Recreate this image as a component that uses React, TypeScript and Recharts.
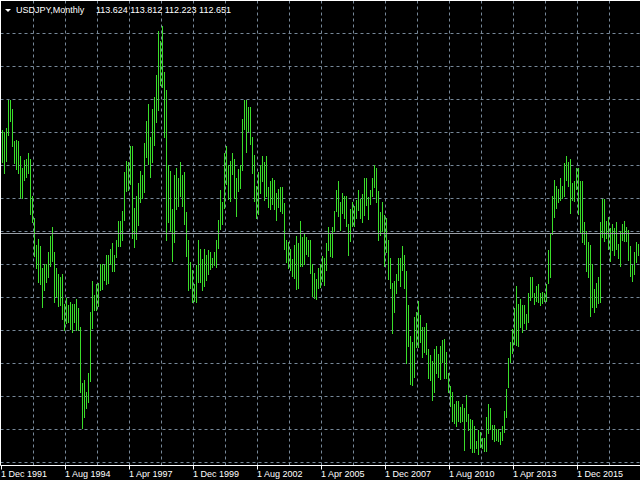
import { BarChart, Bar, XAxis, YAxis, CartesianGrid, ReferenceLine } from "recharts";

const symbol = "USDJPY,Monthly";
const lastBar = ["113.624", "113.812", "112.223", "112.651"];
const lastClose = 112.651;
const firstYear = 1991;
const firstMonth = 12;
const monthNames = ["Jan", "Feb", "Mar", "Apr", "May", "Jun", "Jul", "Aug", "Sep", "Oct", "Nov", "Dec"];
const tickLabels = [
  "1 Dec 1991", "1 Aug 1994", "1 Apr 1997", "1 Dec 1999", "1 Aug 2002",
  "1 Apr 2005", "1 Dec 2007", "1 Aug 2010", "1 Apr 2013", "1 Dec 2015",
];

// monthly highs, Dec 1991 .. Jul 2018
const highs = [
  130.1,
  129.6, 130.3, 135.0, 135.1, 133.6, 128.2, 128.4, 128.1, 125.6, 123.7, 125.0, 125.2,
  126.2, 125.2, 119.0, 115.2, 110.8, 111.8, 110.5, 106.8, 107.6, 107.6, 109.6, 112.3,
  113.7, 109.6, 106.8, 105.9, 105.3, 105.9, 100.9, 101.9, 100.6, 101.1, 100.9, 100.9,
  101.6, 100.1, 97.0, 87.5, 88.0, 86.1, 89.3, 99.4, 104.7, 102.4, 104.1, 104.3,
  107.6, 107.6, 107.3, 109.0, 109.0, 110.0, 111.0, 109.0, 111.6, 114.8, 114.7, 116.5,
  122.9, 124.9, 124.6, 127.3, 127.4, 117.0, 119.0, 121.2, 123.1, 122.5, 127.9, 131.6,
  134.3, 128.9, 133.6, 135.5, 139.2, 146.7, 144.9, 147.5, 139.8, 136.8, 124.1, 123.2,
  116.8, 122.5, 123.7, 122.0, 124.7, 122.5, 122.9, 116.3, 111.5, 107.9, 106.6, 104.1,
  107.4, 111.6, 110.1, 108.3, 110.0, 109.1, 109.8, 109.6, 108.6, 109.6, 111.5, 115.0,
  119.9, 118.0, 126.2, 127.3, 124.1, 124.9, 126.1, 125.2, 122.0, 123.4, 124.1, 131.9,
  135.1, 135.0, 133.8, 133.8, 128.9, 125.9, 120.7, 122.9, 124.2, 125.6, 124.7, 125.7,
  120.5, 121.5, 121.9, 121.7, 119.5, 120.2, 120.4, 120.5, 117.7, 111.5, 111.3, 110.1,
  108.3, 110.8, 112.3, 111.0, 114.8, 112.0, 112.8, 112.0, 111.6, 111.5, 107.5, 106.1,
  105.1, 106.8, 107.6, 108.8, 108.6, 111.0, 113.7, 112.6, 113.7, 116.5, 119.9, 121.4,
  118.0, 119.4, 119.0, 118.9, 114.2, 116.7, 117.9, 117.3, 118.2, 119.9, 118.5, 119.2,
  122.0, 122.0, 118.7, 119.9, 121.9, 124.1, 123.6, 119.7, 116.3, 117.9, 115.8, 115.2,
  111.6, 108.6, 104.3, 104.7, 105.8, 108.5, 108.5, 110.6, 109.1, 106.4, 100.6, 95.5,
  94.5, 98.7, 99.4, 101.4, 98.9, 96.9, 96.9, 97.7, 93.3, 92.3, 91.3, 93.3,
  93.7, 92.5, 93.7, 94.7, 95.0, 92.8, 89.2, 87.0, 86.0, 84.0, 84.5, 84.5,
  83.6, 84.1, 83.3, 85.5, 82.3, 81.6, 81.4, 80.3, 77.9, 79.6, 79.3, 78.3,
  78.4, 81.8, 84.1, 83.3, 80.6, 80.6, 79.9, 79.9, 79.3, 80.4, 82.8, 86.6,
  91.8, 94.4, 96.7, 100.1, 103.8, 100.9, 101.6, 100.6, 100.6, 99.1, 102.6, 105.4,
  105.4, 102.7, 103.8, 104.1, 102.7, 102.9, 102.7, 104.2, 109.8, 112.5, 118.9, 121.7,
  120.7, 120.2, 121.9, 120.7, 124.4, 125.7, 124.6, 125.2, 121.2, 121.4, 123.7, 123.6,
  121.5, 121.4, 114.5, 113.0, 111.3, 110.8, 107.5, 103.4, 104.3, 105.4, 114.5, 118.5,
  118.5, 114.8, 115.5, 113.5, 114.3, 113.5, 114.5, 110.9, 113.1, 114.3, 114.7, 113.7,
  113.3, 110.5, 107.3, 109.5, 111.3, 110.9, 113.1,
];

// monthly lows, Dec 1991 .. Jul 2018
const lows = [
  124.6,
  122.6, 124.6, 128.9, 131.4, 127.2, 124.4, 123.4, 122.6, 118.5, 118.5, 121.4, 122.0,
  122.7, 115.8, 114.5, 108.6, 106.8, 104.4, 103.9, 100.1, 103.1, 104.4, 105.3, 107.1,
  107.9, 101.1, 101.9, 100.4, 100.4, 98.1, 96.4, 97.6, 97.6, 96.4, 96.0, 97.7,
  96.2, 96.2, 86.0, 79.8, 81.6, 83.3, 84.3, 87.7, 96.7, 99.7, 99.6, 100.2,
  103.1, 103.3, 104.6, 103.9, 104.1, 107.3, 106.1, 106.1, 108.5, 110.5, 110.3, 111.5,
  114.7, 119.7, 119.7, 120.7, 111.8, 110.3, 111.6, 114.0, 117.7, 118.5, 119.5, 125.4,
  124.1, 122.0, 124.6, 127.2, 131.1, 133.3, 137.3, 137.1, 128.7, 111.5, 114.3, 113.0,
  107.9, 111.1, 116.7, 117.2, 118.9, 117.2, 114.0, 108.8, 102.9, 103.4, 101.1, 101.1,
  101.1, 104.4, 104.4, 102.9, 103.6, 104.7, 105.6, 106.6, 106.9, 107.2, 106.8, 110.1,
  113.2, 114.2, 116.8, 120.7, 118.2, 118.0, 122.4, 118.5, 115.5, 119.5, 120.0, 123.2,
  130.1, 126.1, 129.6, 127.4, 122.7, 118.0, 115.2, 115.7, 119.4, 121.2, 118.2, 118.9,
  117.0, 116.7, 117.3, 116.7, 114.8, 117.0, 116.2, 116.0, 109.8, 107.6, 106.8, 106.4,
  105.3, 105.1, 103.2, 103.2, 107.0, 107.0, 107.5, 109.0, 108.8, 105.8, 101.9, 101.7,
  101.6, 103.2, 103.6, 104.4, 103.9, 106.3, 109.6, 108.8, 108.5, 113.0, 116.2, 115.3,
  113.2, 115.8, 115.2, 113.7, 108.8, 111.1, 113.7, 113.7, 115.0, 116.3, 115.2, 114.3,
  115.7, 117.3, 114.8, 117.3, 118.7, 120.2, 117.7, 111.3, 112.3, 112.8, 107.0, 109.3,
  104.9, 103.4, 95.7, 99.4, 102.4, 104.6, 103.6, 106.4, 103.4, 90.8, 93.5, 87.2,
  87.2, 88.5, 93.3, 93.5, 94.2, 91.7, 92.5, 92.4, 88.3, 88.0, 84.6, 86.0,
  89.0, 88.5, 88.0, 90.8, 88.3, 88.3, 85.8, 83.5, 80.9, 80.6, 80.1, 80.9,
  80.9, 81.1, 76.1, 80.9, 79.4, 76.6, 75.9, 75.7, 76.6, 75.4, 76.6, 76.4,
  76.1, 75.9, 79.1, 79.6, 78.1, 77.8, 77.9, 77.8, 77.2, 77.8, 79.1, 81.8,
  86.8, 90.8, 92.5, 93.9, 93.7, 93.7, 96.7, 95.9, 97.4, 96.4, 97.6, 101.4,
  101.8, 100.7, 101.1, 100.9, 100.6, 100.9, 101.2, 101.2, 104.1, 105.1, 112.3, 115.3,
  116.8, 117.9, 118.0, 118.5, 118.7, 121.5, 120.4, 116.0, 118.2, 117.9, 120.0, 115.7,
  112.7, 111.0, 110.6, 106.1, 105.3, 98.7, 100.1, 99.4, 100.1, 100.9, 100.9, 112.0,
  111.3, 111.8, 110.0, 107.8, 109.8, 108.8, 109.8, 108.3, 107.1, 111.5, 111.1, 111.1,
  108.1, 105.3, 104.4, 105.6, 107.8, 108.9, 110.3,
];

const data = highs.map((h, i) => {
  const m = firstMonth - 1 + i;
  return {
    month: monthNames[m % 12] + " " + (firstYear + Math.floor(m / 12)),
    hl: [lows[i], h],
  };
});

const W = 640;
const H = 480;
const plotBottom = 465.5;
const grid = "#778899";
const barColor = "#3ade2a";
const font = "'Liberation Sans', Arial, sans-serif";

// MT4 grid: a dashed line every 16 bars, every 33 px in price
const vLines = Array.from({ length: 19 }, (_, k) => 1.5 + 32 * (k + 1));
const hLines = Array.from({ length: 14 }, (_, k) => 33.5 + 33 * k);

function DateTick({ x, payload }) {
  return (
    <g>
      <line x1={x} x2={x} y1={plotBottom} y2={plotBottom + 4} stroke="#ffffff" />
      <text x={x - 0.5} y={477} fill="#ffffff" fontSize={9} fontFamily={font}>
        {"1 " + payload.value}
      </text>
    </g>
  );
}

// one-pixel high-low stick, snapped to the pixel column of the bar centre
function Stick({ x, y, width, height }) {
  if (height == null || isNaN(y)) return null;
  const col = Math.floor(x + width / 2);
  return (
    <rect
      x={col}
      y={Math.round(y)}
      width={1}
      height={Math.max(1, Math.round(height))}
      fill={barColor}
      shapeRendering="crispEdges"
    />
  );
}

export default function App() {
  return (
    <div style={{ position: "fixed", top: 0, left: 0, width: W, height: H, overflow: "hidden", background: "#000" }}>
      <BarChart
        width={W + 1}
        height={H}
        data={data}
        barSize={1}
        margin={{ top: 0.5, right: 0.5, bottom: 0, left: 0.5 }}
      >
        <CartesianGrid
          stroke={grid}
          strokeDasharray="3 3"
          horizontalPoints={hLines}
          verticalPoints={vLines}
        />
        <XAxis
          dataKey="month"
          ticks={tickLabels.map((l) => l.slice(2))}
          interval={0}
          height={14.5}
          tickLine={false}
          axisLine={{ stroke: "#ffffff" }}
          tick={<DateTick />}
        />
        <YAxis hide type="number" domain={[73.725, 151.746]} allowDataOverflow />
        <ReferenceLine y={lastClose} stroke="#9a9fa6" />
        <Bar dataKey="hl" fill={barColor} isAnimationActive={false} shape={<Stick />} />
      </BarChart>
      <svg width={W} height={H} style={{ position: "absolute", top: 0, left: 0, pointerEvents: "none" }}>
        <line x1={0} x2={W} y1={0.5} y2={0.5} stroke="#ffffff" />
        <line x1={0.5} x2={0.5} y1={0} y2={plotBottom} stroke="#ffffff" />
        <polygon points="5,9 11,9 8,12" fill="#ffffff" />
        <text x={16} y={13} fill="#ffffff" fontSize={9} fontFamily={font}>{symbol}</text>
        <text x={96} y={13} fill="#ffffff" fontSize={9} fontFamily={font}>{lastBar.join(" ")}</text>
      </svg>
    </div>
  );
}
